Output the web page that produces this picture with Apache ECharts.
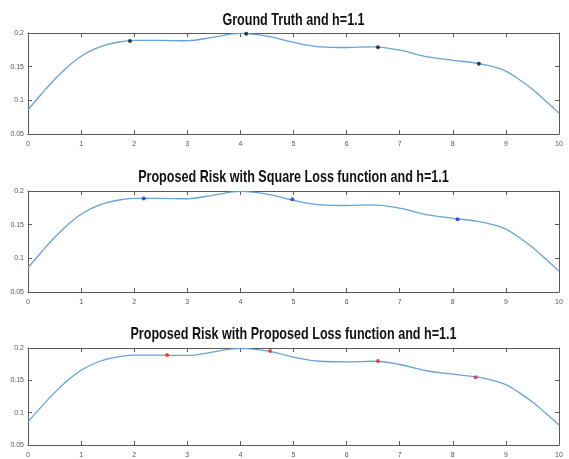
<!DOCTYPE html>
<html>
<head>
<meta charset="utf-8">
<script src="https://cdn.jsdelivr.net/npm/echarts@6/dist/echarts.min.js"></script>
<style>
  html, body { margin: 0; padding: 0; background: #fff; }
  #chart { width: 569px; height: 459px; }
</style>
</head>
<body>
<div id="chart"></div>
<script>
// Estimated risk curve over x in [0, 10]
const curveX = [0, 0.25, 0.5, 0.75, 1, 1.25, 1.5, 1.75, 2, 2.5, 3, 3.5, 4, 4.5, 5, 5.5, 6, 6.5, 7, 7.5, 8, 8.5, 8.75, 9, 9.25, 9.5, 9.75, 10];
const curveY = [0.086, 0.109, 0.131, 0.150, 0.1655, 0.176, 0.183, 0.187, 0.189, 0.189, 0.1885, 0.194, 0.1995, 0.1955, 0.186, 0.1795, 0.1785, 0.1795, 0.1745, 0.1648, 0.1595, 0.1545, 0.150, 0.1434, 0.131, 0.1165, 0.099, 0.081];

// Located points per method
const truthX = [1.92, 4.11, 6.59, 8.49];
const truthY = [0.188, 0.199, 0.179, 0.1543];
const squareX = [2.18, 4.98, 8.09];
const squareY = [0.189, 0.1876, 0.158];
const proposedX = [2.62, 4.56, 6.59, 8.43];
const proposedY = [0.189, 0.1955, 0.180, 0.1546];

const titles = [
  'Ground Truth and h=1.1',
  'Proposed Risk with Square Loss function and h=1.1',
  'Proposed Risk with Proposed Loss function and h=1.1'
];
const markerColors = ['#111111', '#1f2bd6', '#e8262b'];
const markerX = [truthX, squareX, proposedX];
const markerY = [truthY, squareY, proposedY];

const gridLeft = 28;
const gridRight = 10;
const gridTops = [33, 191, 348];
const gridHeight = 101;
const titleCenters = [20.5, 177.5, 334];

const axisColor = '#5a5a5a';
const labelColor = '#555';
const labelFont = '"Liberation Sans", sans-serif';

const zip = (xs, ys) => xs.map((x, i) => [x, ys[i]]);

const plotCenter = gridLeft + (569 - gridLeft - gridRight) / 2;

const option = {
  animation: false,
  backgroundColor: '#fff',
  grid: [],
  xAxis: [],
  yAxis: [],
  series: [],
  graphic: []
};

for (let p = 0; p < 3; p++) {
  // condensed bold panel title
  option.graphic.push({
    type: 'text',
    x: plotCenter,
    y: titleCenters[p],
    scaleX: 0.74,
    style: {
      text: titles[p],
      textAlign: 'center',
      textVerticalAlign: 'middle',
      font: 'bold 17px "Liberation Sans", Arial, sans-serif',
      fill: '#111'
    }
  });
  option.grid.push({ left: gridLeft, right: gridRight, top: gridTops[p], height: gridHeight });

  const common = {
    gridIndex: p,
    type: 'value',
    axisLine: { show: true, onZero: false, lineStyle: { color: axisColor, width: 1 } },
    axisTick: { show: true, inside: true, length: 4, lineStyle: { color: axisColor } },
    splitLine: { show: false }
  };
  // bottom and top x axes
  option.xAxis.push(Object.assign({}, common, {
    position: 'bottom', min: 0, max: 10, interval: 1,
    axisLabel: { show: true, fontSize: 7, color: labelColor, margin: 7, fontFamily: labelFont }
  }));
  option.xAxis.push(Object.assign({}, common, {
    position: 'top', min: 0, max: 10, interval: 1,
    axisLabel: { show: false }
  }));
  // left and right y axes
  option.yAxis.push(Object.assign({}, common, {
    position: 'left', min: 0.05, max: 0.2, interval: 0.05,
    axisLabel: { show: true, fontSize: 7, color: labelColor, margin: 4, fontFamily: labelFont,
      formatter: v => String(Math.round(v * 100) / 100) }
  }));
  option.yAxis.push(Object.assign({}, common, {
    position: 'right', min: 0.05, max: 0.2, interval: 0.05,
    axisLabel: { show: false }
  }));

  option.series.push({
    type: 'line',
    xAxisIndex: p * 2,
    yAxisIndex: p * 2,
    data: zip(curveX, curveY),
    smooth: 0.4,
    showSymbol: false,
    lineStyle: { color: '#65a3d8', width: 1.3 },
    z: 2
  });
  option.series.push({
    type: 'scatter',
    xAxisIndex: p * 2,
    yAxisIndex: p * 2,
    data: zip(markerX[p], markerY[p]),
    symbol: 'circle',
    symbolSize: 4,
    itemStyle: { color: markerColors[p] },
    z: 3
  });
}

const chart = echarts.init(document.getElementById('chart'), null, { renderer: 'canvas' });
chart.setOption(option);
</script>
</body>
</html>
